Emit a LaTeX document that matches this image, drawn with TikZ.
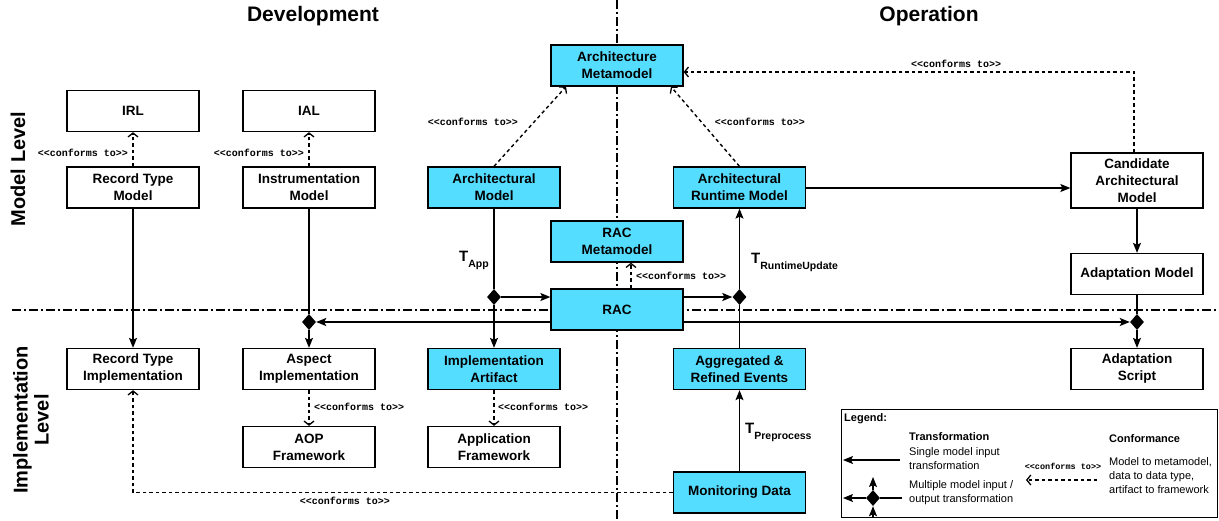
\documentclass[tikz,border=0pt]{standalone}
\usepackage{fontspec}
\setmainfont{Liberation Sans}
\newfontfamily\cf{Liberation Mono}
\usetikzlibrary{arrows.meta,shapes.geometric,calc}
\definecolor{cy}{RGB}{85,221,255}
\newcommand\ct{{\cf\bfseries <\kern0pt<conforms to>\kern0pt>}}
\newcommand\Tl[1]{{\fontsize{15}{15}\selectfont T}\raisebox{-6.5pt}{\fontsize{10.5}{10.5}\selectfont #1}}
\begin{document}
\begin{tikzpicture}[x=1pt,y=-1pt,
 box/.style={draw, line width=1.3pt, minimum width=132pt, minimum height=41pt, inner sep=0pt, align=center, font=\fontsize{13.5}{17}\selectfont\bfseries, fill=white},
 cbox/.style={box, fill=cy},
 dm/.style={diamond, fill=black, minimum width=14pt, minimum height=16pt, inner sep=0pt},
 arr/.style={line width=1.3pt, -{Stealth[length=10pt,width=8pt,inset=2pt]}},
 ln/.style={line width=1.3pt},
 conf/.style={line width=1.4pt, dash pattern=on 3.5pt off 3pt, -{Straight Barb[length=4pt,width=10pt,line width=1.3pt]}},
 ctl/.style={font=\fontsize{10}{10}\selectfont},
 sep/.style={line width=1.1pt, dash pattern=on 9pt off 3pt on 2pt off 3pt},
 lab/.style={font=\fontsize{11}{14}\selectfont, align=left, anchor=west, inner sep=0pt},
 blab/.style={font=\fontsize{11}{14}\selectfont\bfseries, anchor=west, inner sep=0pt},
 head/.style={font=\fontsize{21}{24}\selectfont\bfseries},
 side/.style={font=\fontsize{20}{21}\selectfont\bfseries, rotate=90, align=center},
]
\useasboundingbox (0,0) rectangle (1219,520);

% separators
\coordinate (vs1) at (617,0);
\coordinate (vs2) at (617,520);
\coordinate (hs1) at (12,310);
\coordinate (hs2) at (1219,310);
\draw[sep] (vs1) -- (vs2);
\draw[sep] (hs1) -- (hs2);

% headings
\node[head] (hdev) at (313,16) {Development};
\node[head] (hop) at (929,16) {Operation};
\node[side] (hml) at (18,169) {Model Level};
\node[side] (hil) at (31,420) {Implementation\\Level};

% boxes
\node[box] (irl) at (133,111) {IRL};
\node[box] (ial) at (309,111) {IAL};
\node[box] (rtm) at (133,187.5) {Record Type\\Model};
\node[box] (im) at (309,187.5) {Instrumentation\\Model};
\node[cbox] (am) at (494,187.5) {Architectural\\Model};
\node[cbox] (amm) at (617,65.5) {Architecture\\Metamodel};
\node[cbox] (arm) at (739.5,187.5) {Architectural\\Runtime Model};
\node[cbox] (racm) at (617,241.5) {RAC\\Metamodel};
\node[cbox] (rac) at (617,309.5) {RAC};
\node[box, minimum height=55pt] (cam) at (1137,180.5) {Candidate\\Architectural\\Model};
\node[box] (adm) at (1137,274) {Adaptation Model};
\node[box] (rti) at (133,369) {Record Type\\Implementation};
\node[box] (ai) at (309,369) {Aspect\\Implementation};
\node[cbox] (ia) at (494,369) {Implementation\\Artifact};
\node[box] (aop) at (309,447) {AOP\\Framework};
\node[box] (apf) at (494,447) {Application\\Framework};
\node[cbox] (are) at (739.5,369) {Aggregated \&\\Refined Events};
\node[cbox] (md) at (739.5,492.5) {Monitoring Data};
\node[box] (as) at (1137,369) {Adaptation\\Script};

% diamonds
\node[dm] (d1) at (494,297) {};
\node[dm] (d2) at (739.5,297) {};
\node[dm] (d3) at (309,322) {};
\node[dm] (d4) at (1137,322) {};

% transformations
\draw[ln] (am) -- (d1);
\draw[arr] (d1) -- (ia);
\draw[arr] (d1) -- (d1 -| rac.west);
\draw[arr] (rac.east |- d2) -- (d2);
\draw[ln] (are) -- (d2);
\draw[arr] (d2) -- (arm);
\draw[arr] (rac.west |- d3) -- (d3);
\draw[ln] (im) -- (d3);
\draw[arr] (d3) -- (ai);
\draw[arr] (rac.east |- d4) -- (d4);
\draw[ln] (adm) -- (d4);
\draw[arr] (d4) -- (as);
\draw[arr] (rtm) -- (rti);
\draw[arr] (md) -- (are);
\draw[arr] (arm.east |- 0,188) -- (cam.west |- 0,188);
\draw[arr] (cam) -- (adm);

\node[anchor=base west, inner sep=0pt, font=\bfseries] (tapp) at (459,261) {\Tl{App}};
\node[anchor=base west, inner sep=0pt, font=\bfseries] (trt) at (751,263) {\Tl{RuntimeUpdate}};
\node[anchor=base west, inner sep=0pt, font=\bfseries] (tpp) at (745,433) {\Tl{Preprocess}};

% conformance
\draw[conf] (rtm) -- (irl);
\node[ctl, anchor=east, inner sep=0pt] (c1) at (128,153) {\ct};
\draw[conf] (im) -- (ial);
\node[ctl, anchor=east, inner sep=0pt] (c2) at (304,153) {\ct};
\draw[conf] (am.north) -- ($(amm.south)+(-51,0)$);
\node[ctl, inner sep=0pt] (c3) at (473,122) {\ct};
\draw[conf] (arm.north) -- ($(amm.south)+(54,0)$);
\node[ctl, inner sep=0pt] (c4) at (760,122) {\ct};
\draw[conf] ($(cam.north)+(-3,0)$) |- ($(amm.east)+(0,6.5)$);
\node[ctl, inner sep=0pt] (c5) at (956,64) {\ct};
\draw[conf] ($(rac.north)+(14,0)$) -- ($(racm.south)+(14,0)$);
\node[ctl, anchor=west, inner sep=0pt] (c6) at (636,276) {\ct};
\draw[conf] (ai) -- (aop);
\node[ctl, anchor=west, inner sep=0pt] (c7) at (314,407) {\ct};
\draw[conf] (ia) -- (apf);
\node[ctl, anchor=west, inner sep=0pt] (c8) at (498,407) {\ct};
\draw[conf] (md.west) -| (rti.south);
\node[ctl, inner sep=0pt] (c9) at (345,501) {\ct};

% legend
\node[draw, line width=1pt, minimum width=376pt, minimum height=108pt, anchor=north west, inner sep=0pt] (leg) at (841,409) {};
\node[blab] (lt0) at (844,419) {Legend:};
\node[blab] (lt1) at (909,437) {Transformation};
\node[lab] (lt2) at (909,459) {Single model input\\transformation};
\node[lab] (lt3) at (909,493) {Multiple model input /\\output transformation};
\node[blab] (lt4) at (1109,439) {Conformance};
\node[lab] (lt5) at (1109,476) {Model to metamodel,\\data to data type,\\artifact to framework};
\node[inner sep=0pt, font=\fontsize{8.5}{9}\selectfont] (lt6) at (1063,466) {\ct};
\coordinate (l1a) at (900,460);
\coordinate (l1b) at (843,460);
\draw[arr] (l1a) -- (l1b);
\node[dm] (ld) at (873,498) {};
\coordinate (l2a) at (902,498);
\coordinate (l2b) at (843,498);
\draw[ln] (l2a) -- (ld);
\draw[arr] (ld) -- (l2b);
\coordinate (l3) at (873,477);
\draw[arr] (ld) -- (l3);
\coordinate (l4) at (873,517);
\draw[arr] (l4) -- (ld);
\coordinate (lc1) at (1097,480);
\coordinate (lc2) at (1026,480);
\draw[conf] (lc1) -- (lc2);
\end{tikzpicture}
\end{document}
